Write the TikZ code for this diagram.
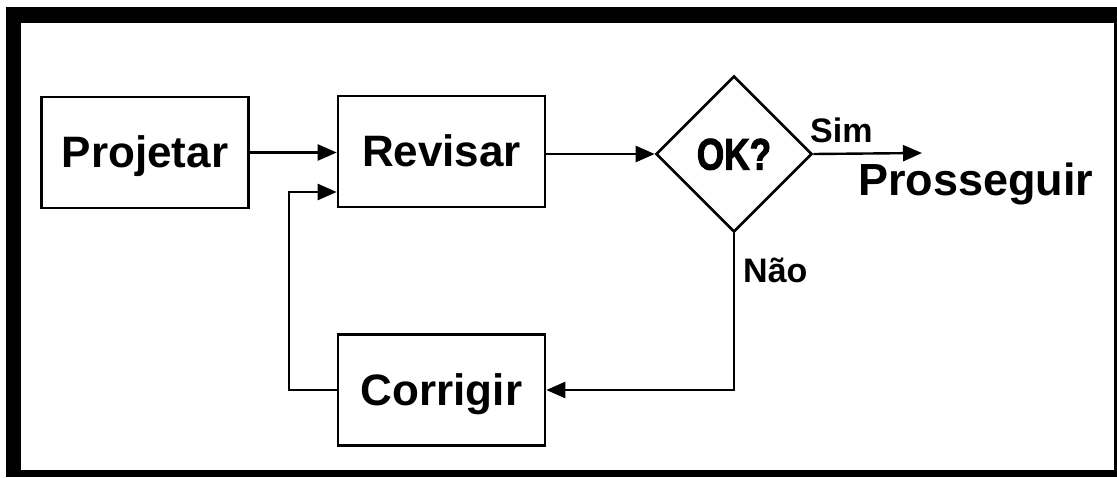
\documentclass[tikz,border=0pt]{standalone}
\usepackage{fontspec}
\usepackage{graphicx}
\setmainfont{Liberation Sans}
\newfontfamily\okfont{Liberation Sans}[BoldFeatures={FakeBold=2.5}]
\usetikzlibrary{arrows.meta,shapes.geometric}
\tikzset{
  box/.style={draw=black, line width=2.6pt, minimum width=207pt, minimum height=111pt,
    inner sep=0pt, text height=30pt, text depth=0pt,
    font=\fontsize{44}{50}\selectfont\bfseries},
  decision/.style={draw=black, line width=2.6pt, diamond, aspect=1, inner sep=0pt,
    minimum width=156pt, minimum height=156pt, text height=31pt, text depth=0pt,
    font=\okfont\fontsize{44}{50}\selectfont\bfseries},
  conn/.style={line width=2.4pt, -{Triangle[length=19pt,width=16pt]}},
  small/.style={inner sep=0pt, anchor=base west, font=\fontsize{34}{38}\selectfont\bfseries},
  big/.style={inner sep=0pt, anchor=base west, font=\fontsize{45}{50}\selectfont\bfseries}
}
\begin{document}
\begin{tikzpicture}[x=1pt,y=-1pt]
\useasboundingbox (0,0) rectangle (1117,477);
\fill[white] (0,0) rectangle (1117,477);
\fill[black] (6,7) rectangle (1117,477);
\fill[white] (21,23) rectangle (1114,470);

\node[box] (proj) at (145,152.5) {Projetar};
\node[box] (rev) at (441.5,151.5) {Revisar};
\node[box] (corr) at (441.5,390) {Corrigir};
\node[decision] (ok) at (734,154) {\scalebox{0.8}[1]{OK?}};

\coordinate (fb) at (289,192);
\coordinate (fim) at (922,153);

\draw[conn] (proj.east) -- (proj.east -| rev.west);
\draw[conn] (rev.east |- ok.west) -- (ok.west);
\draw[conn] (corr.west) -| (fb) -- (fb -| rev.west);
\draw[conn] (ok.south) |- (corr.east);
\draw[conn] (ok.east) -- (fim);

\node[small] (sim) at (810,142) {Sim};
\node[small] (nao) at (743,282) {Não};
\node[big] (pros) at (858,195) {Prosseguir};
\end{tikzpicture}
\end{document}
